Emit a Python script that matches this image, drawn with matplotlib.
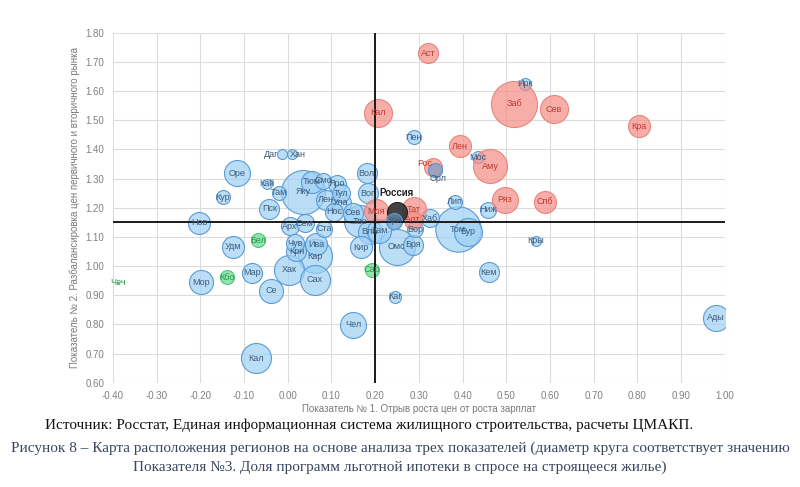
import matplotlib
matplotlib.use("Agg")
import matplotlib.pyplot as plt
import numpy as np

# ---- data ----
names = ["Ирк", "Пен", "Мос", "Вол", "Вог", "Даг", "Хан", "Оре", "Кай", "Там",
         "Яку", "Тюм", "Смо", "Яро", "Тул", "Лен", "Ула", "Нос", "Сев", "Тве",
         "Вла", "Кам", "Кир", "Вор", "Хаб", "Омс", "Бря", "Лип", "Ниж", "Том",
         "Бур", "Кем", "Кры", "Ады", "Каг", "Чел", "Кур", "Пск", "Нов", "Удм",
         "Мар", "Мор", "Хак", "Се", "Кал", "Арх", "Сем", "Ста", "Чув", "Крн",
         "Кар", "Ива", "Сах",
         "Аст", "Кал", "Заб", "Сев", "Кра", "Лен", "Аму", "Рос", "Ряз", "Спб",
         "Моя", "Тат", "Алт",
         "Орл", "Кри",
         "Бел", "Кбо", "Сар", "Чеч",
         "Россия"]
x_gap = [0.543, 0.289, 0.436, 0.181, 0.183, -0.012, 0.011, -0.116, -0.048, -0.019,
         0.035, 0.055, 0.081, 0.113, 0.123, 0.087, 0.122, 0.106, 0.149, 0.165,
         0.188, 0.209, 0.168, 0.291, 0.325, 0.249, 0.287, 0.383, 0.459, 0.390,
         0.413, 0.460, 0.568, 0.980, 0.245, 0.150, -0.149, -0.042, -0.203, -0.125,
         -0.082, -0.199, 0.003, -0.038, -0.073, 0.005, 0.039, 0.084, 0.016, 0.020,
         0.062, 0.065, 0.062,
         0.322, 0.206, 0.518, 0.609, 0.803, 0.395, 0.463, 0.332, 0.497, 0.589,
         0.203, 0.289, 0.286,
         0.337, 0.243,
         -0.067, -0.139, 0.192, -0.389,
         0.249]
y_imbal = [1.624, 1.442, 1.373, 1.318, 1.250, 1.384, 1.384, 1.318, 1.282, 1.252,
           1.254, 1.289, 1.292, 1.282, 1.250, 1.227, 1.217, 1.186, 1.183, 1.153,
           1.118, 1.121, 1.065, 1.127, 1.164, 1.067, 1.073, 1.221, 1.193, 1.127,
           1.118, 0.978, 1.087, 0.823, 0.894, 0.799, 1.236, 1.197, 1.149, 1.067,
           0.977, 0.945, 0.987, 0.915, 0.684, 1.136, 1.147, 1.128, 1.079, 1.050,
           1.033, 1.075, 0.953,
           1.729, 1.526, 1.556, 1.538, 1.479, 1.410, 1.342, 1.341, 1.227, 1.220,
           1.187, 1.195, 1.159,
           1.330, 1.155,
           1.089, 0.961, 0.987, 0.943,
           1.184]
share = [18, 21, 18, 30, 30, 15, 15, 39, 15, 21,
         66, 33, 24, 27, 27, 30, 30, 27, 30, 48,
         36, 36, 33, 24, 27, 54, 30, 21, 24, 68,
         42, 30, 15, 39, 18, 39, 21, 30, 33, 33,
         30, 36, 45, 36, 45, 27, 27, 24, 27, 30,
         51, 33, 45,
         30, 42, 69, 42, 33, 33, 51, 27, 39, 33,
         36, 36, 27,
         21, 24,
         21, 21, 21, 2,
         30]
group = ["b"] * 53 + ["r"] * 13 + ["b"] * 2 + ["g"] * 4 + ["k"]

x_ticks = [-0.40, -0.30, -0.20, -0.10, 0.00, 0.10, 0.20, 0.30, 0.40, 0.50,
           0.60, 0.70, 0.80, 0.90, 1.00]
y_ticks = [0.60, 0.70, 0.80, 0.90, 1.00, 1.10, 1.20, 1.30, 1.40, 1.50,
           1.60, 1.70, 1.80]
x_ref = 0.20
y_ref = 1.15

# ---- styles ----
fill = {"b": (0.62, 0.82, 0.96, 0.70), "r": (0.96, 0.55, 0.52, 0.70),
        "g": (0.45, 0.88, 0.60, 0.80), "k": (0.18, 0.18, 0.18, 0.90)}
edge = {"b": "#5b9bd5", "r": "#e8857c", "g": "#54c47a", "k": "#222222"}
lab = {"b": "#3c5a7a", "r": "#c0392b", "g": "#23994a", "k": "#111111"}
offsets = {"Рос": (-6, 2), "Орл": (2, -6), "Даг": (-8, 0), "Хан": (4, 0),
           "Чеч": (0, 0), "Россия": (0, 14)}

plt.rcParams["font.family"] = ["Liberation Sans", "DejaVu Sans"]
fig = plt.figure(figsize=(8, 4.87), dpi=100)
ax = fig.add_axes([0.141, 0.214, 0.765, 0.719])

ax.set_xlim(-0.40, 1.00)
ax.set_ylim(0.60, 1.80)
ax.set_xticks(x_ticks)
ax.set_yticks(y_ticks)
ax.set_xticklabels([f"{v:.2f}" for v in x_ticks])
ax.set_yticklabels([f"{v:.2f}" for v in y_ticks])
ax.tick_params(length=0, labelsize=7, colors="#808080", pad=6)
ax.grid(True, color="#dcdcdc", linewidth=0.8)
ax.set_axisbelow(True)
for s in ax.spines.values():
    s.set_visible(False)

ax.axvline(x_ref, color="#1a1a1a", linewidth=1.4, zorder=5)
ax.axhline(y_ref, color="#1a1a1a", linewidth=1.4, zorder=5)

px_per_share = 2.0 / 3.0  # diameter px per share unit
order = ["b", "r", "g", "k"]
for g in order:
    idx = [i for i in range(len(names)) if group[i] == g]
    for i in sorted(idx, key=lambda k: -share[k]):
        d_pt = share[i] * px_per_share * 0.72
        ax.scatter(x_gap[i], y_imbal[i], s=d_pt ** 2, color=fill[g],
                   edgecolors=edge[g], linewidths=0.8, zorder=3)
# Орл and Кри overlap the red / dark bubbles
for nm in ["Орл", "Кри"]:
    i = names.index(nm)
    d_pt = share[i] * px_per_share * 0.72
    ax.scatter(x_gap[i], y_imbal[i], s=d_pt ** 2, color=(0.45, 0.62, 0.80, 0.6),
               edgecolors=edge["b"], linewidths=0.8, zorder=4)

for i, nm in enumerate(names):
    g = group[i]
    dx, dy = offsets.get(nm, (0, 0))
    if nm == "Россия":
        ax.annotate(nm, (x_gap[i], y_imbal[i]), xytext=(dx, dy),
                    textcoords="offset points", ha="center", va="center",
                    fontsize=7, fontweight="bold", color="#222222", zorder=6)
    else:
        ax.annotate(nm, (x_gap[i], y_imbal[i]), xytext=(dx, dy),
                    textcoords="offset points", ha="center", va="center",
                    fontsize=6.5, color=lab[g], zorder=6)

ax.set_xlabel("Показатель № 1. Отрыв роста цен от роста зарплат",
              fontsize=7, color="#7a7a7a", labelpad=2)
ax.set_ylabel("Показатель № 2. Разбалансировка цен первичного и вторичного рынка",
              fontsize=7, color="#7a7a7a", labelpad=4)

fig.text(0.056, 0.127, "Источник: Росстат, Единая информационная система жилищного строительства, расчеты ЦМАКП.",
         fontsize=11, family=["Liberation Serif", "DejaVu Serif"], color="#111111",
         ha="left", va="center")
fig.text(0.5, 0.080, "Рисунок 8 – Карта расположения регионов на основе анализа трех показателей (диаметр круга соответствует значению",
         fontsize=11, family=["Liberation Serif", "DejaVu Serif"], color="#3a4560",
         ha="center", va="center")
fig.text(0.5, 0.040, "Показателя №3. Доля программ льготной ипотеки в спросе на строящееся жилье)",
         fontsize=11, family=["Liberation Serif", "DejaVu Serif"], color="#3a4560",
         ha="center", va="center")

fig.savefig("out.png", dpi=100)
